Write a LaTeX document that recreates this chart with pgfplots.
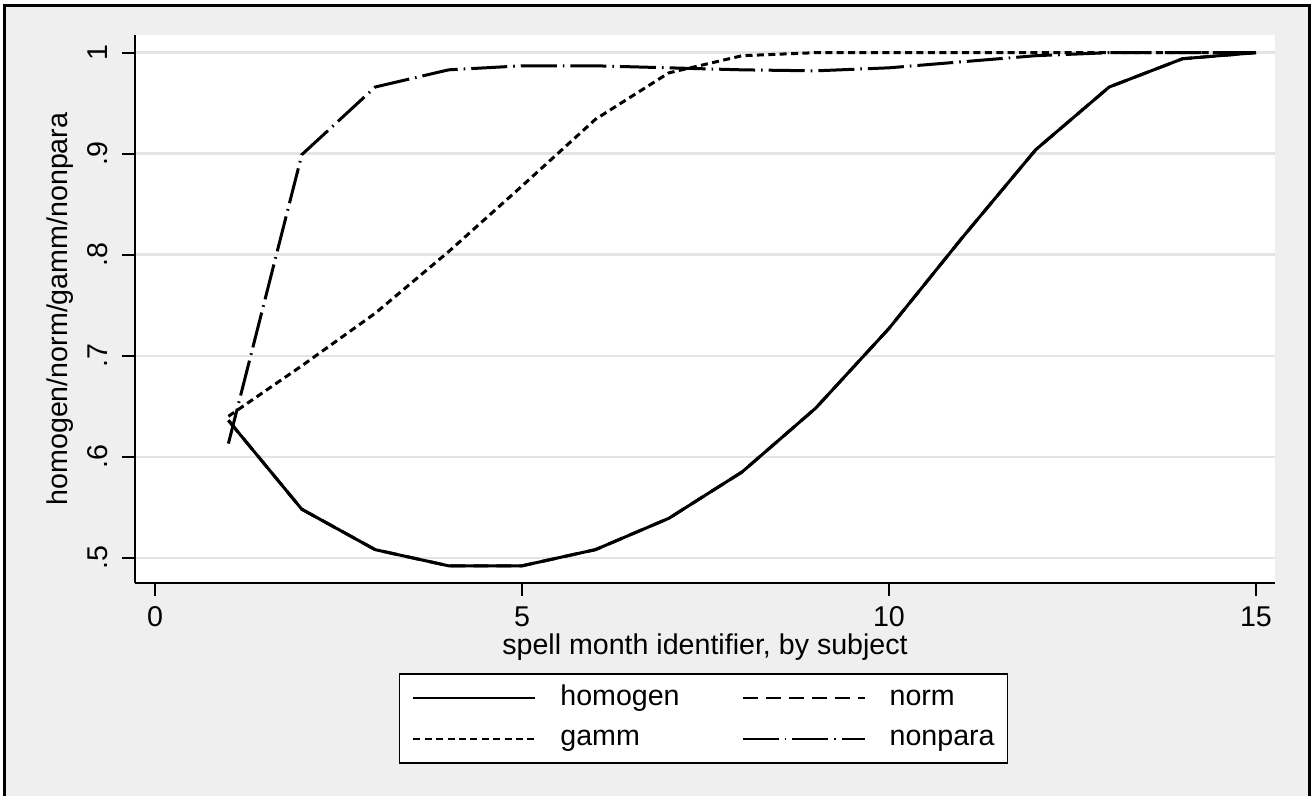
\documentclass[border=0pt]{standalone}
\usepackage{pgfplots}
\pgfplotsset{compat=1.18}
\usepackage{fontspec}
\setmainfont{Liberation Sans}
\definecolor{bggray}{RGB}{239,239,239}
\definecolor{gridgray}{RGB}{228,228,228}
\newcommand{\fs}{\fontsize{14.3}{17}\selectfont}
\begin{document}
\begin{tikzpicture}
\useasboundingbox (-67.5pt,-106.5pt) rectangle (589pt,291.5pt);
\fill[white] (-67.5pt,-106.5pt) rectangle (589pt,291.5pt);
\fill[bggray] (-65.25pt,-110pt) rectangle (587.25pt,288.75pt);
\draw[line width=1.5pt] (-65.25pt,-110pt) -- (-65.25pt,288.75pt) -- (587.25pt,288.75pt) -- (587.25pt,-110pt);
\begin{axis}[
  scale only axis, width=570pt, height=274pt,
  xmin=-0.2725, xmax=15.259, ymin=0.475, ymax=1.0175,
  axis x line*=bottom, axis y line*=left,
  axis line style={-, line width=0.9pt, black},
  xtick={0,5,10,15}, xticklabels={0,5,10,15},
  ytick={0.5,0.6,0.7,0.8,0.9,1}, yticklabels={.5,.6,.7,.8,.9,1},
  tick align=outside, major tick length=6.5pt,
  every tick/.style={black, line width=0.9pt},
  ymajorgrids, grid style={gridgray, line width=1.2pt},
  axis background/.style={fill=white},
  tick label style={font=\fs},
  label style={font=\fs},
  yticklabel style={rotate=90, anchor=south, inner sep=0pt},
  yticklabel shift=7pt,
  xticklabel style={anchor=north, inner sep=0pt},
  xticklabel shift=5pt,
  ylabel={homogen/norm/gamm/nonpara},
  ylabel style={at={(axis description cs:-0.0658,0.5)}, anchor=center, inner sep=0pt},
  xlabel={spell month identifier, by subject},
  xlabel style={at={(axis description cs:0.5,-0.117)}, anchor=center, inner sep=0pt},
  legend columns=2,
  legend cell align=left,
  legend style={at={(axis description cs:0.4987,-0.1642)}, anchor=north, draw=black, line width=0.8pt, fill=white, font=\fs, inner xsep=6.5pt, inner ysep=5.5pt, row sep=7pt,
    /tikz/every odd column/.append style={column sep=12pt},
    /tikz/every even column/.append style={column sep=31pt},
    nodes={inner sep=0pt, text height=10.3pt, text depth=3pt}},
  legend image code/.code={\draw[#1, line width=1pt] (0pt,0pt) -- (61pt,0pt);},
]
\addplot[black, line width=1.5pt] coordinates {(1,0.636) (2,0.548) (3,0.508) (4,0.492) (5,0.492) (6,0.508) (7,0.539) (8,0.585) (9,0.648) (10,0.727) (11,0.817) (12,0.904) (13,0.966) (14,0.994) (15,1.0)};
\addlegendentry{homogen}
\addplot[black, line width=1.5pt, dash pattern=on 7.5pt off 4pt] coordinates {(1,0.636) (2,0.548) (3,0.508) (4,0.492) (5,0.492) (6,0.508) (7,0.539) (8,0.585) (9,0.648) (10,0.727) (11,0.817) (12,0.904) (13,0.966) (14,0.994) (15,1.0)};
\addlegendentry{norm}
\addplot[black, line width=1.5pt, dash pattern=on 3.5pt off 2.2pt] coordinates {(1,0.64) (2,0.69) (3,0.742) (4,0.803) (5,0.868) (6,0.934) (7,0.98) (8,0.997) (9,1.0) (10,1.0) (11,1.0) (12,1.0) (13,1.0) (14,1.0) (15,1.0)};
\addlegendentry{gamm}
\addplot[black, line width=1.5pt, dash pattern=on 18pt off 3pt on 0.8pt off 3pt] coordinates {(1,0.613) (2,0.899) (3,0.966) (4,0.983) (5,0.987) (6,0.987) (7,0.985) (8,0.983) (9,0.982) (10,0.985) (11,0.991) (12,0.997) (13,1.0) (14,1.0) (15,1.0)};
\addlegendentry{nonpara\hspace{7pt}}
\end{axis}
\end{tikzpicture}
\end{document}
